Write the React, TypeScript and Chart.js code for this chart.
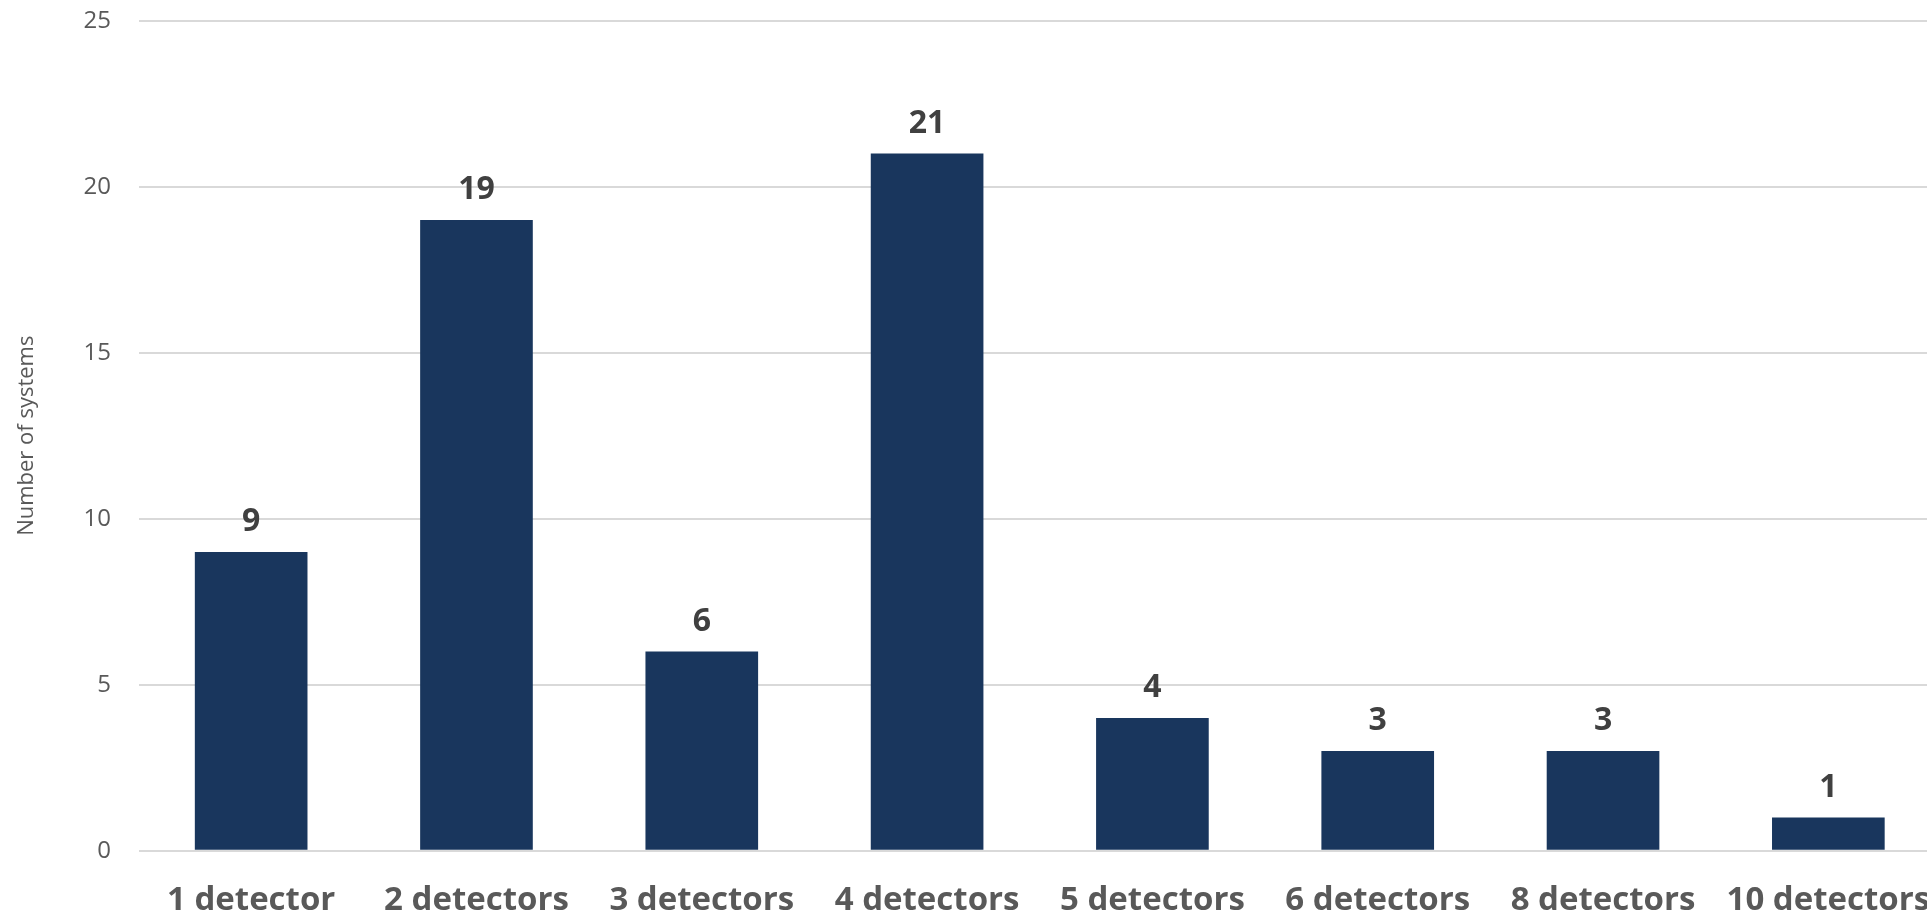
import React, { useEffect, useRef } from "react";
import { Chart, registerables } from "chart.js";

Chart.register(...registerables);

const categories = ["1 detector", "2 detectors", "3 detectors", "4 detectors", "5 detectors", "6 detectors", "8 detectors", "10 detectors"];
const systemCounts = [9, 19, 6, 21, 4, 3, 3, 1];
const yTicks = [0, 5, 10, 15, 20, 25];
const yTitle = "Number of systems";

const CANVAS_W = 1941;
const VIEW_W = 1927;
const H = 913;

const labelPlugin = {
  id: "barValueLabels",
  afterDatasetsDraw(chart: any) {
    const ctx = chart.ctx;
    const meta = chart.getDatasetMeta(0);
    const data = chart.data.datasets[0].data;
    ctx.save();
    ctx.font = "bold 32px 'Open Sans'";
    ctx.fillStyle = "#404040";
    ctx.textAlign = "center";
    ctx.textBaseline = "alphabetic";
    meta.data.forEach((bar: any, i: number) => {
      ctx.fillText(String(data[i]), bar.x, bar.y - 21);
    });
    ctx.restore();
  },
};

export default function App() {
  const ref = useRef<HTMLCanvasElement | null>(null);
  useEffect(() => {
    if (!ref.current) return;
    const chart = new Chart(ref.current, {
      type: "bar",
      data: {
        labels: categories,
        datasets: [
          {
            data: systemCounts,
            backgroundColor: "#19365d",
            barPercentage: 0.5,
            categoryPercentage: 1,
          },
        ],
      },
      options: {
        responsive: false,
        animation: false,
        maintainAspectRatio: false,
        layout: { padding: { top: 20.7, right: 0, left: 0, bottom: 0 } },
        plugins: { legend: { display: false }, tooltip: { enabled: false } },
        scales: {
          x: {
            grid: { display: false, drawTicks: false },
            border: { display: false },
            ticks: {
              color: "#595959",
              font: { family: "'Open Sans'", size: 33, weight: "bold" },
              padding: 30,
              maxRotation: 0,
              autoSkip: false,
            },
            afterFit: (s: any) => {
              s.height = 62.3;
              s.paddingLeft = 0;
              s.paddingRight = 0;
            },
          },
          y: {
            min: 0,
            max: 25,
            afterBuildTicks: (s: any) => {
              s.ticks = yTicks.map((v) => ({ value: v }));
            },
            grid: { color: "#d9d9d9", lineWidth: 2, drawTicks: false },
            border: { display: false },
            ticks: {
              color: "#595959",
              font: { family: "'Open Sans'", size: 24 },
              padding: 27.5,
            },
            title: {
              display: true,
              text: yTitle,
              color: "#595959",
              font: { family: "'Open Sans'", size: 22 },
              padding: { top: 13.8, bottom: 0 },
            },
            afterFit: (s: any) => {
              s.width = 138.5;
              s.paddingTop = 0;
              s.paddingBottom = 0;
            },
          },
        },
      },
      plugins: [labelPlugin],
    });
    return () => chart.destroy();
  }, []);
  return (
    <div style={{ position: "fixed", left: 0, top: 0, width: 1931, height: H, background: "#fff" }}>
      <div style={{ width: VIEW_W, height: H, overflow: "hidden" }}>
        <canvas ref={ref} width={CANVAS_W} height={H} style={{ display: "block" }} />
      </div>
    </div>
  );
}
